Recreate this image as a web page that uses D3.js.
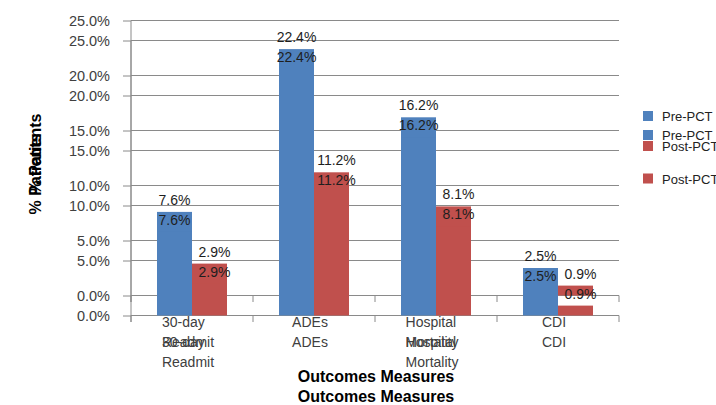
<!DOCTYPE html>
<html>
<head>
<meta charset="utf-8">
<script src="https://cdn.jsdelivr.net/npm/d3@7/dist/d3.min.js"></script>
<style>
  html, body { margin: 0; padding: 0; background: #fff; }
  svg { display: block; font-family: "Liberation Sans", Arial, sans-serif; }
</style>
</head>
<body>
<svg id="chart" width="716" height="405"></svg>
<script>
// Outcome measures, before and after PCT
const categories = ["30-day Readmit", "ADEs", "Hospital Mortality", "CDI"];
const seriesNames = ["Pre-PCT", "Post-PCT"];
const prePCT = [7.6, 22.4, 16.2, 2.5];
const postPCT = [2.9, 11.2, 8.1, 0.9];
const yTicks = [0, 5, 10, 15, 20, 25];
const yTitle = "% Patients";
const xTitle = "Outcomes Measures";

const seriesValues = [prePCT, postPCT];
const colors = ["#4F81BD", "#C0504D"];

// The chart is printed twice, the second copy shifted down
const layers = [
  { dy: 0,  legendY: 116, legendGap: 30 },
  { dy: 20, legendY: 135, legendGap: 43.5 }
];

const svg = d3.select("#chart");
const plotLeft = 131, plotRight = 619;
const baseTop = 20.5, baseBottom = 295.5;

const x0 = d3.scaleBand().domain(categories).range([plotLeft, plotRight]).paddingInner(0).paddingOuter(0);
const x1 = d3.scaleBand().domain(seriesNames).range([0, x0.bandwidth()]).paddingInner(0).paddingOuter(0.743);

const yFor = l => d3.scaleLinear().domain([0, 25]).range([baseBottom + l.dy, baseTop + l.dy]);

const gridG = svg.append("g");
const barG = svg.append("g");
const textG = svg.append("g");

layers.forEach(l => {
  const y = yFor(l);

  // horizontal gridlines
  gridG.append("g").selectAll("line").data(yTicks).join("line")
    .attr("x1", plotLeft).attr("x2", plotRight)
    .attr("y1", d => y(d)).attr("y2", d => y(d))
    .attr("stroke", "#8a8a8a").attr("stroke-width", 1);

  // value axis
  const yAxis = d3.axisLeft(y).tickValues(yTicks).tickSize(8).tickPadding(13)
    .tickFormat(d => d.toFixed(1) + "%");
  const ga = gridG.append("g").attr("transform", `translate(${plotLeft},0)`).call(yAxis);
  ga.select(".domain").attr("stroke", "#8a8a8a")
    .attr("d", `M0,${y(25)}V${y(0) + 6.5}`);
  ga.selectAll(".tick line").attr("stroke", "#8a8a8a");
  ga.selectAll(".tick text").attr("fill", "#404040").style("font-size", "14.5px")
    .style("font-family", "Liberation Sans, Arial, sans-serif");

  // category boundary ticks
  const edges = categories.map(c => x0(c)).concat([plotRight]);
  gridG.append("g").selectAll("line").data(edges).join("line")
    .attr("x1", d => d).attr("x2", d => d)
    .attr("y1", y(0)).attr("y2", y(0) + 6.5)
    .attr("stroke", "#8a8a8a");

  // bars
  seriesNames.forEach((s, si) => {
    barG.append("g").selectAll("rect").data(seriesValues[si]).join("rect")
      .attr("x", (d, i) => x0(categories[i]) + x1(s))
      .attr("width", x1.bandwidth())
      .attr("y", d => y(d))
      .attr("height", d => y(0) - y(d))
      .attr("fill", colors[si]);
  });

  // value labels
  seriesNames.forEach((s, si) => {
    textG.append("g").selectAll("text").data(seriesValues[si]).join("text")
      .attr("x", (d, i) => x0(categories[i]) + x1(s) + x1.bandwidth() / 2 + (si === 1 ? 5 : 0))
      .attr("y", d => y(d) - 7)
      .attr("text-anchor", "middle")
      .attr("fill", "#1e1e1e")
      .style("font-size", "14px")
      .text(d => d.toFixed(1) + "%");
  });

  // category labels, wrapped one word per line
  categories.forEach(c => {
    const words = c.split(" ");
    const t = textG.append("text")
      .attr("fill", "#404040").style("font-size", "14px");
    words.forEach((w, wi) => {
      t.append("tspan").attr("y", y(0) + 31.5 + wi * 20).text(w);
    });
    let maxW = 0;
    t.selectAll("tspan").each(function () { maxW = Math.max(maxW, this.getComputedTextLength()); });
    const left = x0(c) + x0.bandwidth() / 2 - maxW / 2 - 4;
    t.selectAll("tspan").attr("x", left);
  });

  // axis titles
  textG.append("text")
    .attr("x", (plotLeft + plotRight) / 2 + 1)
    .attr("y", 382 + l.dy)
    .attr("text-anchor", "middle")
    .attr("fill", "#000").style("font-size", "16px").style("font-weight", "bold")
    .text(xTitle);

  textG.append("text")
    .attr("transform", `translate(41,${154 + l.dy}) rotate(-90)`)
    .attr("text-anchor", "middle")
    .attr("fill", "#000").style("font-size", "16px").style("font-weight", "bold")
    .text(yTitle);

  // legend
  seriesNames.forEach((s, si) => {
    const cy = l.legendY + si * l.legendGap;
    textG.append("rect")
      .attr("x", 643).attr("y", cy - 5)
      .attr("width", 10).attr("height", 10)
      .attr("fill", colors[si]);
    textG.append("text")
      .attr("x", 662).attr("y", cy + 5)
      .attr("fill", "#222").style("font-size", "13px")
      .text(s);
  });
});
</script>
</body>
</html>
